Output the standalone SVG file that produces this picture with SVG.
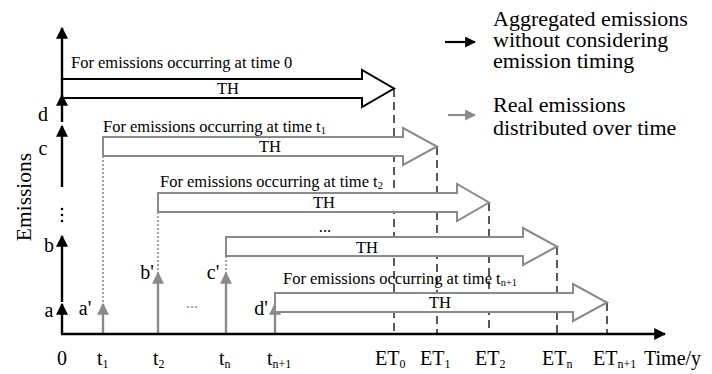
<svg xmlns="http://www.w3.org/2000/svg" width="712" height="374" viewBox="0 0 712 374" font-family="'Liberation Serif', 'DejaVu Serif', serif">
<defs>
<marker id="hb" viewBox="0 0 10 10" refX="9" refY="5" markerWidth="5" markerHeight="5" markerUnits="strokeWidth" orient="auto"><path d="M0,0 L10,5 L0,10 Z" fill="#000"/></marker>
<marker id="hg" viewBox="0 0 10 10" refX="9" refY="5" markerWidth="5" markerHeight="5" markerUnits="strokeWidth" orient="auto"><path d="M0,0 L10,5 L0,10 Z" fill="#8a8a8a"/></marker>
</defs>
<style>
text{font-family:'Liberation Serif','DejaVu Serif',serif;fill:#000}
.lab{font-size:16.5px}
.ax{font-size:20px}
.leg{font-size:22px}
.sub{font-size:12px}
.subs{font-size:10.5px}
.axis{stroke:#000;stroke-width:2.4;fill:none}
.gax{stroke:#8a8a8a;stroke-width:2.4;fill:none}
.blk{stroke:#000;stroke-width:2;fill:#fff}
.gry{stroke:#8a8a8a;stroke-width:2;fill:#fff}
.dash{stroke:#000;stroke-width:1.3;stroke-dasharray:8 5;fill:none}
.dot{stroke:#8a8a8a;stroke-width:1.6;stroke-dasharray:2 2;fill:none}
</style>
<rect width="712" height="374" fill="#fff"/>
<g id="connectors">
<line class="dash" x1="394" y1="89" x2="394" y2="334"/>
<line class="dash" x1="437" y1="147" x2="437" y2="334"/>
<line class="dash" x1="489" y1="203" x2="489" y2="334"/>
<line class="dash" x1="557" y1="247" x2="557" y2="334"/>
<line class="dash" x1="607" y1="303" x2="607" y2="334"/>
<line class="dot" x1="103" y1="156" x2="103" y2="305"/>
<line class="dot" x1="158" y1="212" x2="158" y2="274"/>
<line class="dot" x1="226" y1="256" x2="226" y2="274"/>
<line class="gax" x1="103" y1="334" x2="103" y2="304" marker-end="url(#hg)"/>
<line class="gax" x1="158" y1="334" x2="158" y2="273" marker-end="url(#hg)"/>
<line class="gax" x1="226" y1="334" x2="226" y2="273" marker-end="url(#hg)"/>
<line class="gax" x1="275" y1="334" x2="275" y2="304" marker-end="url(#hg)"/>
</g>
<g id="arrow-t0">
<path class="blk" d="M62,79 H362 V70 L394,88.5 L362,107 V98 H62"/>
<text class="lab" x="71" y="68">For emissions occurring at time 0</text>
<text class="lab" x="228" y="94" text-anchor="middle">TH</text>
</g>
<g id="arrow-t1">
<path class="gry" d="M103,137 H403 V128 L437,146.5 L403,165 V156 H103 Z"/>
<text class="lab" x="103" y="132">For emissions occurring at time t<tspan class="subs" dy="2">1</tspan></text>
<text class="lab" x="270" y="152" text-anchor="middle">TH</text>
</g>
<g id="arrow-t2">
<path class="gry" d="M158,193 H457 V184 L489,202.5 L457,221 V212 H158 Z"/>
<text class="lab" x="160" y="187">For emissions occurring at time t<tspan class="subs" dy="2">2</tspan></text>
<text class="lab" x="324" y="208" text-anchor="middle">TH</text>
</g>
<g id="arrow-tn">
<path class="gry" d="M226,237 H523 V228 L557,246.5 L523,265 V256 H226 Z"/>
<text class="lab" x="325" y="232" text-anchor="middle">...</text>
<text class="lab" x="367" y="253" text-anchor="middle">TH</text>
</g>
<g id="arrow-tn1">
<path class="gry" d="M275,293 H573 V284 L607,302.5 L573,321 V312 H275 Z"/>
<text class="lab" x="283" y="284">For emissions occurring at time t<tspan class="subs" dy="2">n+1</tspan></text>
<text class="lab" x="440" y="308" text-anchor="middle">TH</text>
</g>
<g id="axes">
<line class="axis" x1="61" y1="334" x2="665" y2="334" marker-end="url(#hb)"/>
<line class="axis" x1="62" y1="334" x2="62" y2="304" marker-end="url(#hb)"/>
<line class="axis" x1="62" y1="302" x2="62" y2="236" marker-end="url(#hb)"/>
<line class="axis" x1="62" y1="187" x2="62" y2="126" marker-end="url(#hb)"/>
<line class="axis" x1="62" y1="122" x2="62" y2="95" marker-end="url(#hb)"/>
<line class="axis" x1="62" y1="96" x2="62" y2="28" marker-end="url(#hb)"/>
<circle cx="62" cy="209" r="1.3"/>
<circle cx="62" cy="215" r="1.3"/>
<circle cx="62" cy="221" r="1.3"/>
<text x="31" y="197" transform="rotate(-90 31 197)" text-anchor="middle" style="font-size:21.5px">Emissions</text>
<text class="ax" x="49" y="317" text-anchor="middle">a</text>
<text class="ax" x="49" y="252" text-anchor="middle">b</text>
<text class="ax" x="43" y="155" text-anchor="middle">c</text>
<text class="ax" x="43" y="121" text-anchor="middle">d</text>
<text class="ax" x="85" y="315" text-anchor="middle">a'</text>
<text class="ax" x="147" y="279" text-anchor="middle">b'</text>
<text class="ax" x="213" y="279" text-anchor="middle">c'</text>
<text class="ax" x="261" y="315" text-anchor="middle">d'</text>
<text class="ax" x="192" y="308" text-anchor="middle" style="fill:#8a8a8a;font-size:16px">...</text>
<text class="ax" x="62" y="365" text-anchor="middle">0</text>
<text class="ax" x="97" y="365">t<tspan class="sub" dy="3">1</tspan></text>
<text class="ax" x="153" y="365">t<tspan class="sub" dy="3">2</tspan></text>
<text class="ax" x="219" y="365">t<tspan class="sub" dy="3">n</tspan></text>
<text class="ax" x="267" y="365">t<tspan class="sub" dy="3">n+1</tspan></text>
<text class="ax" x="375" y="365">ET<tspan class="sub" dy="3">0</tspan></text>
<text class="ax" x="420" y="365">ET<tspan class="sub" dy="3">1</tspan></text>
<text class="ax" x="475" y="365">ET<tspan class="sub" dy="3">2</tspan></text>
<text class="ax" x="542" y="365">ET<tspan class="sub" dy="3">n</tspan></text>
<text class="ax" x="593" y="365">ET<tspan class="sub" dy="3">n+1</tspan></text>
<text class="ax" x="644" y="365">Time/y</text>
</g>
<g id="legend">
<line stroke="#000" stroke-width="2.2" x1="445" y1="42" x2="475" y2="42" marker-end="url(#hb)"/>
<text class="leg" x="493" y="26">Aggregated emissions</text>
<text class="leg" x="493" y="47">without considering</text>
<text class="leg" x="493" y="68">emission timing</text>
<line stroke="#8a8a8a" stroke-width="2.2" x1="448" y1="115" x2="475" y2="115" marker-end="url(#hg)"/>
<text class="leg" x="493" y="112">Real emissions</text>
<text class="leg" x="493" y="135">distributed over time</text>
</g>
</svg>
